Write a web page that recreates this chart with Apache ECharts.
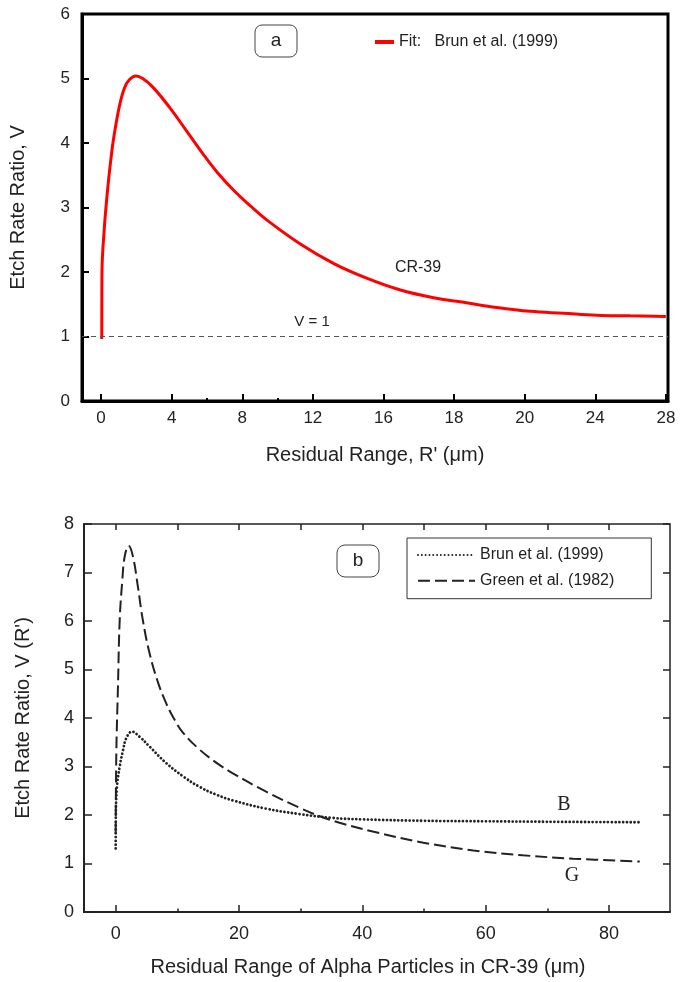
<!DOCTYPE html>
<html><head><meta charset="utf-8">
<script src="https://cdn.jsdelivr.net/npm/echarts@6/dist/echarts.min.js"></script>
<style>html,body{margin:0;padding:0;background:#fff}#c{width:681px;height:982px}</style>
</head><body><div id="c"></div>
<script>
// ---------- Panel (a) ----------
const topTickLabels = ['0','4','8','12','16','18','20','24','28'];
const fitR = [0.04,0.05,0.19,0.38,0.57,0.70,1.03,1.32,1.60,1.98,2.36,2.92,3.86,4.81,5.75,6.60,7.54,8.48,9.42,11.31,13.19,15.08,16.48,17.42,18.27,19.21,20.31,22.19,24.08,25.96,28.0];
const fitV = [0.96,1.98,2.70,3.30,3.78,4.05,4.56,4.85,4.98,5.04,5.00,4.87,4.56,4.20,3.84,3.54,3.26,3.02,2.80,2.43,2.13,1.90,1.72,1.60,1.53,1.45,1.39,1.36,1.33,1.32,1.31];
const refV = 1;

// ---------- Panel (b) ----------
const brunX = [0.0,0.02,0.2,0.65,1.2,1.7,2.65,3.9,5.5,8.2,10.9,13.6,16.3,19,24.4,29.8,35.2,40,50,60,70,85];
const brunV = [1.31,1.9,2.58,3.0,3.34,3.58,3.72,3.61,3.41,3.07,2.80,2.58,2.42,2.30,2.13,2.02,1.94,1.91,1.88,1.87,1.86,1.85];
const greenX = [0.0,0.1,0.37,0.65,1.08,1.46,2.1,2.8,3.6,4.4,5.5,6.9,8.2,9.3,10.9,13.6,16.3,19,24.4,29.8,33,36.3,41.7,49.9,58,66,74.2,85];
const greenV = [1.62,3.27,4.65,6.02,6.85,7.33,7.55,7.33,6.71,6.02,5.33,4.72,4.30,4.02,3.70,3.35,3.08,2.86,2.48,2.15,1.98,1.84,1.66,1.43,1.27,1.17,1.10,1.04];
const botXTicks = [0,20,40,60,80];
const botXMinor = [10,30,50,70];

const tickVals = topTickLabels.map(Number);
function toU(r){
  for (let i=0;i<tickVals.length-1;i++){
    if (r<=tickVals[i+1]) return i + (r - tickVals[i])/(tickVals[i+1]-tickVals[i]);
  }
  return tickVals.length-1;
}
const topIdx = topTickLabels.map((_,i)=>i);
const font = 'Liberation Sans, Arial, sans-serif';
const txt = '#222';
const noSym = {color:'rgba(0,0,0,0)', borderColor:'rgba(0,0,0,0)', borderWidth:0, opacity:0};

const chart = echarts.init(document.getElementById('c'), null, {renderer:'canvas'});
const option = {
  animation:false,
  backgroundColor:'#fff',
  textStyle:{fontFamily:font},
  grid:[
    {left:81, top:14, width:587, height:387, show:true, borderColor:'#000', borderWidth:3},
    {left:84, top:524, width:586, height:388, show:true, borderColor:'#222', borderWidth:1.5}
  ],
  legend:[
    {left:373, top:34, padding:0, itemWidth:19, itemHeight:14, data:['Fit:   Brun et al. (1999)'],
     textStyle:{fontSize:16, color:txt, fontFamily:font}, lineStyle:{width:4}, itemStyle:noSym},
    {left:407, top:538, orient:'vertical', padding:[9,37,10,10], itemWidth:57, itemHeight:14, itemGap:9.7,
     borderColor:'#333', borderWidth:1, data:['Brun et al. (1999)','Green et al. (1982)'],
     textStyle:{fontSize:16, color:txt, fontFamily:font}, itemStyle:noSym}
  ],
  xAxis:[
    {gridIndex:0, type:'value', min:-0.27, max:8.03, position:'bottom',
     axisLine:{onZero:false, lineStyle:{color:'#000', width:3}},
     axisTick:{inside:true, length:7, lineStyle:{color:'#000', width:2}, customValues:topIdx},
     axisLabel:{customValues:topIdx, formatter:v=>topTickLabels[Math.round(v)], fontSize:17, color:txt, margin:9, fontFamily:font},
     splitLine:{show:false},
     name:"Residual Range, R' (μm)", nameLocation:'middle', nameGap:44,
     nameTextStyle:{fontSize:20, color:txt, fontFamily:font}},
    {gridIndex:0, type:'value', min:-0.27, max:8.03, position:'bottom',
     axisLine:{show:false, onZero:false}, axisLabel:{show:false}, splitLine:{show:false},
     axisTick:{inside:true, length:3, lineStyle:{color:'#000', width:2}, customValues:[1.5,2.5]}},
    {gridIndex:1, type:'value', min:-5.14, max:89.9, position:'bottom',
     axisLine:{onZero:false, lineStyle:{color:'#222', width:2}},
     axisTick:{inside:true, length:7, lineStyle:{color:'#222', width:1.5}, customValues:botXTicks},
     axisLabel:{customValues:botXTicks, fontSize:18, color:txt, margin:13, fontFamily:font},
     splitLine:{show:false},
     name:'Residual Range of Alpha Particles in CR-39 (μm)', nameLocation:'middle', nameGap:45,
     nameTextStyle:{fontSize:20, color:txt, fontFamily:font, padding:[0,18,0,0]}},
    {gridIndex:1, type:'value', min:-5.14, max:89.9, position:'bottom',
     axisLine:{show:false, onZero:false}, axisLabel:{show:false}, splitLine:{show:false},
     axisTick:{inside:true, length:3.5, lineStyle:{color:'#222', width:1.5}, customValues:botXMinor}},
    {gridIndex:1, type:'value', min:-5.14, max:89.9, position:'top',
     axisLine:{show:false, onZero:false}, axisLabel:{show:false}, splitLine:{show:false},
     axisTick:{inside:true, length:6, lineStyle:{color:'#222', width:1.5}, customValues:botXTicks.concat(botXMinor)}}
  ],
  yAxis:[
    {gridIndex:0, type:'value', min:0, max:6, interval:1, position:'left',
     axisLine:{show:true, onZero:false, lineStyle:{color:'#000', width:3}},
     axisTick:{show:true, inside:true, length:7, lineStyle:{color:'#000', width:2}},
     axisLabel:{fontSize:17, color:txt, margin:12, fontFamily:font},
     splitLine:{show:false},
     name:'Etch Rate Ratio, V', nameLocation:'middle', nameGap:54,
     nameTextStyle:{fontSize:20, color:txt, fontFamily:font}},
    {gridIndex:1, type:'value', min:0, max:8, interval:1, position:'left',
     axisLine:{show:true, onZero:false, lineStyle:{color:'#222', width:2}},
     axisTick:{show:true, inside:true, length:8, lineStyle:{color:'#222', width:1.5}},
     axisLabel:{fontSize:18, color:txt, margin:10, fontFamily:font},
     splitLine:{show:false},
     name:"Etch Rate Ratio, V (R')", nameLocation:'middle', nameGap:51,
     nameTextStyle:{fontSize:20, color:txt, fontFamily:font}},
    {gridIndex:1, type:'value', min:0, max:8, interval:1, position:'right',
     axisLine:{show:false, onZero:false}, axisLabel:{show:false}, splitLine:{show:false},
     axisTick:{show:true, inside:true, length:7, lineStyle:{color:'#222', width:1.5}}}
  ],
  series:[
    {name:'Fit:   Brun et al. (1999)', type:'line', xAxisIndex:0, yAxisIndex:0,
     data:fitR.map((r,i)=>[toU(r), fitV[i]]), showSymbol:false, symbol:'none', smooth:0.4,
     lineStyle:{color:'#ff0000', width:3}, itemStyle:{color:'#ff0000'},
     markLine:{silent:true, symbol:['none','none'], label:{show:false},
       lineStyle:{color:'#555', width:1, type:[5,4]}, data:[{yAxis:refV}]}},
    {name:'Brun et al. (1999)', type:'line', xAxisIndex:2, yAxisIndex:1,
     data:brunX.map((x,i)=>[x, brunV[i]]), showSymbol:false, symbol:'none', smooth:0.4,
     lineStyle:{color:'#222', width:2.8, type:[0.01,3.8], cap:'round'}, itemStyle:{color:'#222'}},
    {name:'Green et al. (1982)', type:'line', xAxisIndex:2, yAxisIndex:1,
     data:greenX.map((x,i)=>[x, greenV[i]]), showSymbol:false, symbol:'none', smooth:0.4,
     lineStyle:{color:'#222', width:2, type:[12,5]}, itemStyle:{color:'#222'}}
  ],
  graphic:[
    {type:'rect', shape:{x:255, y:25, width:42, height:32, r:7}, style:{fill:'#fff', stroke:'#444', lineWidth:1}},
    {type:'text', x:276, y:41, style:{text:'a', fill:txt, font:'19px '+font, align:'center', verticalAlign:'middle'}},
    {type:'text', x:312, y:322, style:{text:'V = 1', fill:txt, font:'15px '+font, align:'center', verticalAlign:'middle'}},
    {type:'text', x:418, y:268, style:{text:'CR-39', fill:txt, font:'16px '+font, align:'center', verticalAlign:'middle'}},
    {type:'rect', shape:{x:337, y:545, width:42, height:32, r:8}, style:{fill:'#fff', stroke:'#444', lineWidth:1}},
    {type:'text', x:358, y:561, style:{text:'b', fill:txt, font:'19px '+font, align:'center', verticalAlign:'middle'}},
    {type:'text', x:564, y:805, style:{text:'B', fill:txt, font:'20px Liberation Serif, Times New Roman, serif', align:'center', verticalAlign:'middle'}},
    {type:'text', x:572, y:876, style:{text:'G', fill:txt, font:'20px Liberation Serif, Times New Roman, serif', align:'center', verticalAlign:'middle'}}
  ]
};
chart.setOption(option);
</script>
</body></html>
